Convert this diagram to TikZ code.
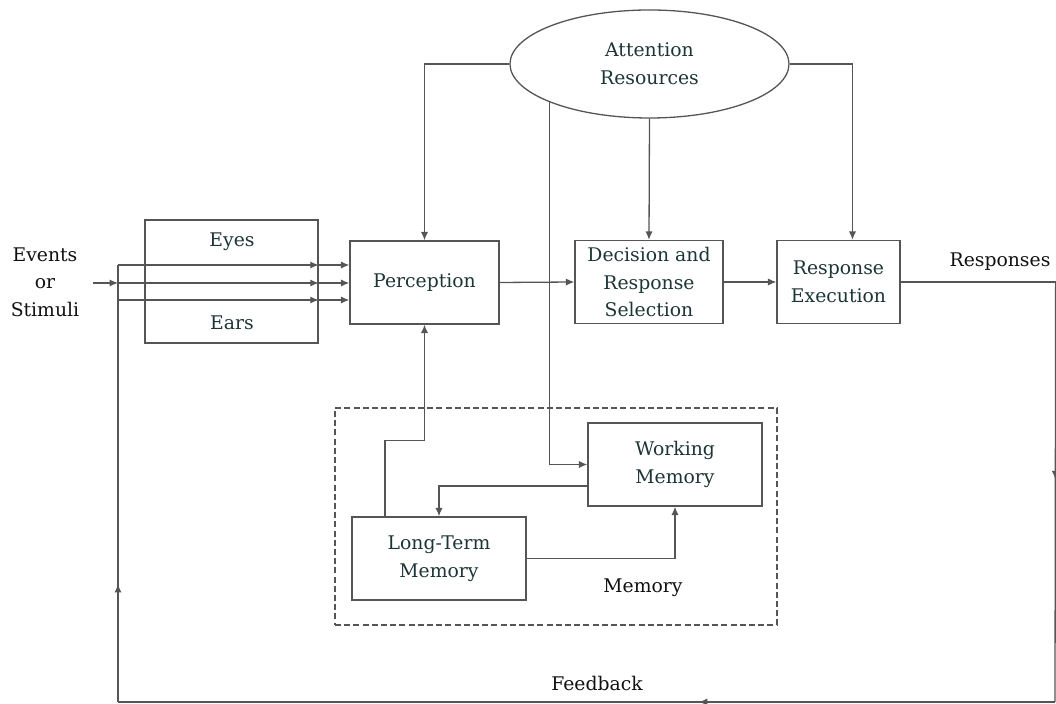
\documentclass[tikz,border=0pt]{standalone}
\usepackage{fontspec}
\setmainfont{DejaVu Serif}
\usetikzlibrary{shapes,arrows.meta,positioning,calc,decorations.markings}
\definecolor{wkInk}{HTML}{1E3535}
\definecolor{wkText}{HTML}{111111}
\definecolor{wkLine}{HTML}{555555}
\tikzset{
  blk/.style={draw=wkLine, line width=0.65pt, text=wkInk, font=\fontsize{9.4}{13.8}\selectfont, align=center, inner sep=0pt},
  lbl/.style={text=wkText, font=\fontsize{9.4}{13.8}\selectfont, align=center, inner sep=0pt},
  ln/.style={draw=wkLine, line width=0.65pt},
  arr/.style={ln, -{Latex[length=4.2pt,width=3.6pt]}},
  midarr/.style={postaction={decorate}, decoration={markings, mark=at position #1 with {\arrow[wkLine]{Latex[length=4.2pt,width=3.6pt]}}}},
}
\begin{document}
\begin{tikzpicture}[x=0.5pt, y=-0.5pt]
            \useasboundingbox (0,0) rectangle (1056,704);
            \node[blk, ellipse, minimum width=139.5pt, minimum height=54pt] (attn) at (649.5,64) {Attention\\Resources};
            \node[blk, minimum width=86.5pt, minimum height=61.5pt] (senses) at (231.5,281.5) {};
            \node[blk, draw=none] (eyes) at (232,242) {Eyes};
            \node[blk, draw=none] (ears) at (232,323) {Ears};
            \node[blk, minimum width=74.5pt, minimum height=41.5pt] (perc) at (424.5,282.5) {Perception};
            \node[blk, minimum width=74pt, minimum height=41.5pt] (dec) at (649,282) {Decision and\\Response\\Selection};
            \node[blk, minimum width=61.5pt, minimum height=41.5pt] (exec) at (838.5,282) {Response\\Execution};
            \node[blk, dashed, dash pattern=on 3pt off 1.6pt, minimum width=221pt, minimum height=108.5pt] (mem) at (556,516.5) {};
            \node[blk, minimum width=87pt, minimum height=41.5pt] (wm) at (675,464.5) {Working\\Memory};
            \node[blk, minimum width=87pt, minimum height=41.5pt] (ltm) at (439,558.5) {Long-Term\\Memory};
            \node[lbl] (memlbl) at (643,588) {Memory};
            \node[lbl] (events) at (45,282) {Events\\or\\Stimuli};
            \node[lbl] (resp) at (1000,262) {Responses};
            \node[lbl] (fb) at (597,683) {Feedback};
            % input and the three sensory channels
            \coordinate (src) at (93,283);
            \coordinate (fork) at (118,283);
            \draw[arr] (src) -- (fork);
            \foreach \y in {265,283,300} {
              \draw[arr] (fork |- 0,\y) -- (senses.east |- 0,\y);
              \draw[arr] (senses.east |- 0,\y) -- (perc.west |- 0,\y);
            }
            \draw[arr] (perc.east) -- (dec.west);
            \draw[arr] (dec.east) -- (exec.west);
            % attention
            \draw[arr] (attn.west) -| (perc.north);
            \draw[arr] (attn.south) -- (dec.north);
            \draw[arr] (attn.east) -| ([xshift=7pt]exec.north);
            \draw[arr] (attn.-159) |- (wm.west);
            % memory
            \draw[arr] ([yshift=-10.75pt]wm.west) -| (ltm.north);
            \draw[arr] (ltm.east) -| (wm.south);
            \draw[arr] ([xshift=-27pt]ltm.north) -- ++(0,-76) -| (perc.south);
            % feedback loop
            \draw[ln] (exec.east) -- ++(155,0) coordinate (fbNE);
            \coordinate (fbSE) at (1055,702);
            \coordinate (fbSW) at (118,702);
            \draw[ln, midarr=0.47] (fbNE) -- (fbSE);
            \draw[ln, midarr=0.38] (fbSE) -- (fbSW);
            \draw[ln, midarr=0.27] (fbSW) -- (fork |- 0,265);
        \end{tikzpicture}
\end{document}
